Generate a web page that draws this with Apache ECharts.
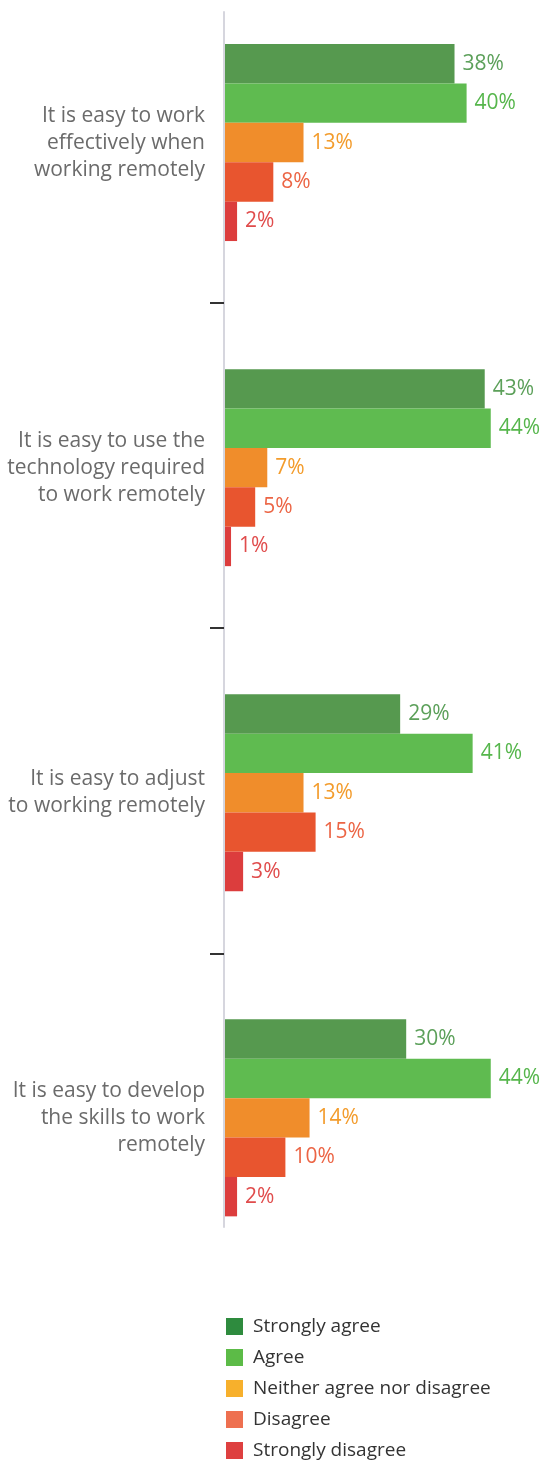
<!DOCTYPE html>
<html>
<head>
<meta charset="utf-8">
<script src="https://cdn.jsdelivr.net/npm/echarts@6/dist/echarts.min.js"></script>
<style>
    html, body { margin: 0; padding: 0; background: #fff; }
    #chart { width: 546px; height: 1461px; }
</style>
</head>
<body>
<div id="chart"></div>
<script>
// Survey statements (top to bottom)
const categories = [
    'It is easy to work\neffectively when\nworking remotely',
    'It is easy to use the\ntechnology required\nto work remotely',
    'It is easy to adjust\nto working remotely',
    'It is easy to develop\nthe skills to work\nremotely'
];
const seriesNames = ['Strongly agree', 'Agree', 'Neither agree nor disagree', 'Disagree', 'Strongly disagree'];

// Percentages per answer
const stronglyAgree = [38, 43, 29, 30];
const agree = [40, 44, 41, 44];
const neither = [13, 7, 13, 14];
const disagree = [8, 5, 15, 10];
const stronglyDisagree = [2, 1, 3, 2];

const BAR_COLORS = ['#56994f', '#5fbb50', '#f08d2b', '#e8552f', '#dc3d3d'];
const LABEL_COLORS = ['#5ca05a', '#56b64c', '#f39c2c', '#ec6545', '#e04c4c'];
const LEGEND_COLORS = ['#2e8b3e', '#5cbb47', '#f7b02c', '#ee7050', '#de4040'];
const FONT = '"Open Sans", "Noto Sans", sans-serif';

/* Band layout: groups are ~325px apart, first band starts just above the page. */
const BAND = 325.1;
const GRID_TOP = -20;

let chart = echarts.init(document.getElementById('chart'));

let values = [stronglyAgree, agree, neither, disagree, stronglyDisagree];
let series = values.map(function (data, i) {
    return {
        name: seriesNames[i],
        type: 'bar',
        data: data,
        barWidth: 39.4,
        barGap: 0,
        itemStyle: { color: BAR_COLORS[i] },
        label: {
            show: true,
            position: 'right',
            distance: 8,
            formatter: '{c}%',
            color: LABEL_COLORS[i],
            fontFamily: FONT,
            fontSize: 21
        }
    };
});

let option = {
    animation: false,
    textStyle: { fontFamily: FONT },
    legend: {
        orient: 'vertical',
        left: 226,
        top: 1317,
        height: 200,
        padding: 0,
        icon: 'rect',
        itemWidth: 17,
        itemHeight: 17,
        itemGap: 12,
        selectedMode: false,
        textStyle: {
            color: '#333',
            fontFamily: FONT,
            fontSize: 19,
            lineHeight: 17,
            padding: [0, 0, 0, 5]
        },
        data: seriesNames.map(function (name, i) {
            return { name: name, itemStyle: { color: LEGEND_COLORS[i] } };
        })
    },
    grid: [
        // bars
        { left: 225, right: 19, top: GRID_TOP, height: BAND * 4, outerBoundsMode: 'none', containLabel: false },
        // visible axis line
        { left: 224, width: 10, top: 12, height: 1215, outerBoundsMode: 'none' },
        // separator ticks between groups
        { left: 224, width: 10, top: GRID_TOP + BAND - 2, height: BAND * 2, outerBoundsMode: 'none' }
    ],
    xAxis: [
        { gridIndex: 0, type: 'value', min: 0, max: 50, show: false },
        { gridIndex: 1, type: 'value', show: false },
        { gridIndex: 2, type: 'value', show: false }
    ],
    yAxis: [
        {
            gridIndex: 0,
            type: 'category',
            inverse: true,
            data: categories,
            axisLine: { show: false },
            axisTick: { show: false },
            axisLabel: {
                margin: 20,
                color: '#6b6b6b',
                fontFamily: FONT,
                fontSize: 21,
                lineHeight: 27,
                align: 'right'
            }
        },
        {
            gridIndex: 1,
            type: 'value',
            axisLine: { show: true, lineStyle: { color: '#d6d6de', width: 2 } },
            axisTick: { show: false },
            axisLabel: { show: false },
            splitLine: { show: false }
        },
        {
            gridIndex: 2,
            type: 'category',
            data: ['', ''],
            axisLine: { show: false },
            axisTick: { show: true, length: 14, lineStyle: { color: '#333', width: 2 } },
            axisLabel: { show: false },
            splitLine: { show: false }
        }
    ],
    series: series
};

chart.setOption(option);

window.addEventListener('resize', function () {
    chart.resize();
});
</script>
</body>
</html>
